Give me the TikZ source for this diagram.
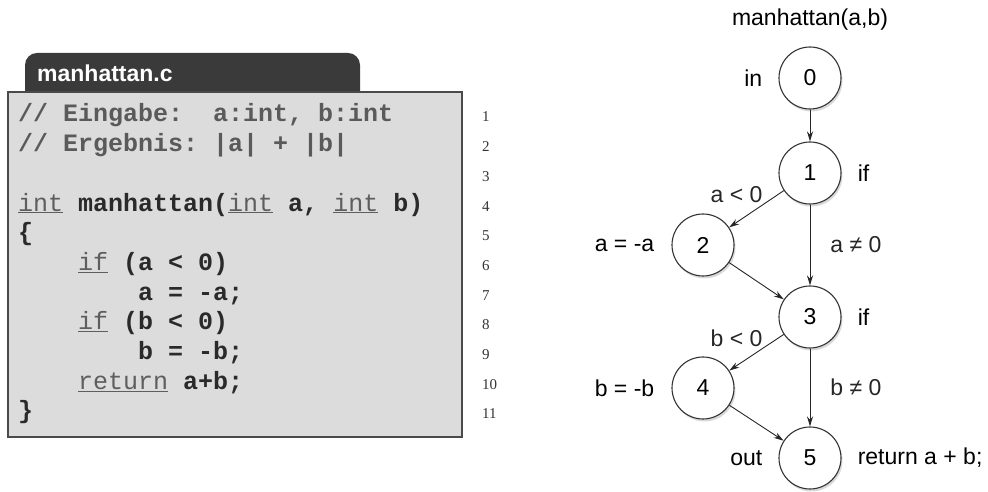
\documentclass[tikz,border=0pt]{standalone}
\usepackage{fontspec}
\setmainfont{Liberation Sans}
\setmonofont{Liberation Mono}
\newfontfamily\numfont{Liberation Serif}
\usetikzlibrary{positioning,arrows.meta,shadows}
\definecolor{tabgray}{HTML}{3A3A3A}
\definecolor{boxgray}{HTML}{DCDCDC}
\definecolor{framegray}{HTML}{4A4A4A}
\definecolor{cmtgray}{HTML}{5A5A5A}
\definecolor{kwgray}{HTML}{5E5E5E}
\definecolor{codeblack}{HTML}{2A2A2A}
\newcommand{\kw}[1]{{\mdseries\color{kwgray}\underline{#1}}}
\newcommand{\cmt}[1]{{\color{cmtgray}#1}}

\begin{document}
\begin{tikzpicture}[x=1pt,y=1pt,
    state/.style={circle,draw=black!80,line width=1.1pt,fill=white,
      minimum size=62pt,inner sep=0pt,font=\fontsize{23}{27}\selectfont,
      drop shadow={opacity=0.3,shadow xshift=1.5pt,shadow yshift=-2.5pt}},
    tag/.style={inner sep=0pt,font=\fontsize{23}{27}\selectfont},
    flow/.style={-{Stealth[length=10pt,width=6pt]},line width=0.9pt,black!85},
    codeline/.style={anchor=base west,inner sep=0pt,
      font=\ttfamily\bfseries\fontsize{25}{30}\selectfont,text=codeblack},
    lineno/.style={anchor=base west,inner sep=0pt,
      font=\numfont\fontsize{15}{18}\selectfont,text=black!80}]
    \useasboundingbox (0,0) rectangle (988,492);

    % source file
    \fill[tabgray] (25,396) [rounded corners=12pt] -- (25,439) -- (360,439)
        [sharp corners] -- (360,396) -- cycle;
    \node[anchor=west,inner sep=0pt,text=white,
        font=\bfseries\fontsize{23}{27}\selectfont] (filename) at (37,419) {manhattan.c};
    \draw[fill=boxgray,draw=framegray,line width=1.5pt] (8,55) rectangle (462,400);

    \foreach \txt [count=\i] in {
        {\cmt{// Eingabe:~~a:int, b:int}},
        {\cmt{// Ergebnis: |a| + |b|}},
        {},
        {\kw{int} manhattan(\kw{int} a, \kw{int} b)},
        {\{},
        {~~~~\kw{if} (a < 0)},
        {~~~~~~~~a = -a;},
        {~~~~\kw{if} (b < 0)},
        {~~~~~~~~b = -b;},
        {~~~~\kw{return} a+b;},
        {\}}}
        \node[codeline] (line\i) at (18,{370-29.7*(\i-1)}) {\txt};

    \foreach \i in {1,...,11}
        \node[lineno] (num\i) at (482,{370-29.7*(\i-1)}) {\i};

    % control flow graph
    \node[tag] (title) at (810,472) {manhattan(a,b)};

    \node[state] (n0) at (810,414) {0};
    \node[state] (n1) at (810,319) {1};
    \node[state] (n2) at (703,247) {2};
    \node[state] (n3) at (810,175) {3};
    \node[state] (n4) at (703,104) {4};
    \node[state] (n5) at (810,34) {5};

    \node[tag,left=16pt of n0] (in) {in};
    \node[tag,right=16pt of n1] (if1) {if};
    \node[tag,left=17pt of n2] (neg2) {a = -a};
    \node[tag,right=16pt of n3] (if3) {if};
    \node[tag,left=17pt of n4] (neg4) {b = -b};
    \node[tag,left=16pt of n5] (out) {out};
    \node[tag,right=16pt of n5] (ret) {return a + b;};

    \draw[flow] (n0) -- (n1);
    \draw[flow] (n1) -- node[tag,above left=8pt,xshift=12pt] {a < 0} (n2);
    \draw[flow] (n1) -- node[tag,right=20pt] {a ≠ 0} (n3);
    \draw[flow] (n2) -- (n3);
    \draw[flow] (n3) -- node[tag,above left=8pt,xshift=12pt] {b < 0} (n4);
    \draw[flow] (n3) -- node[tag,right=20pt] {b ≠ 0} (n5);
    \draw[flow] (n4) -- (n5);
\end{tikzpicture}
\end{document}
